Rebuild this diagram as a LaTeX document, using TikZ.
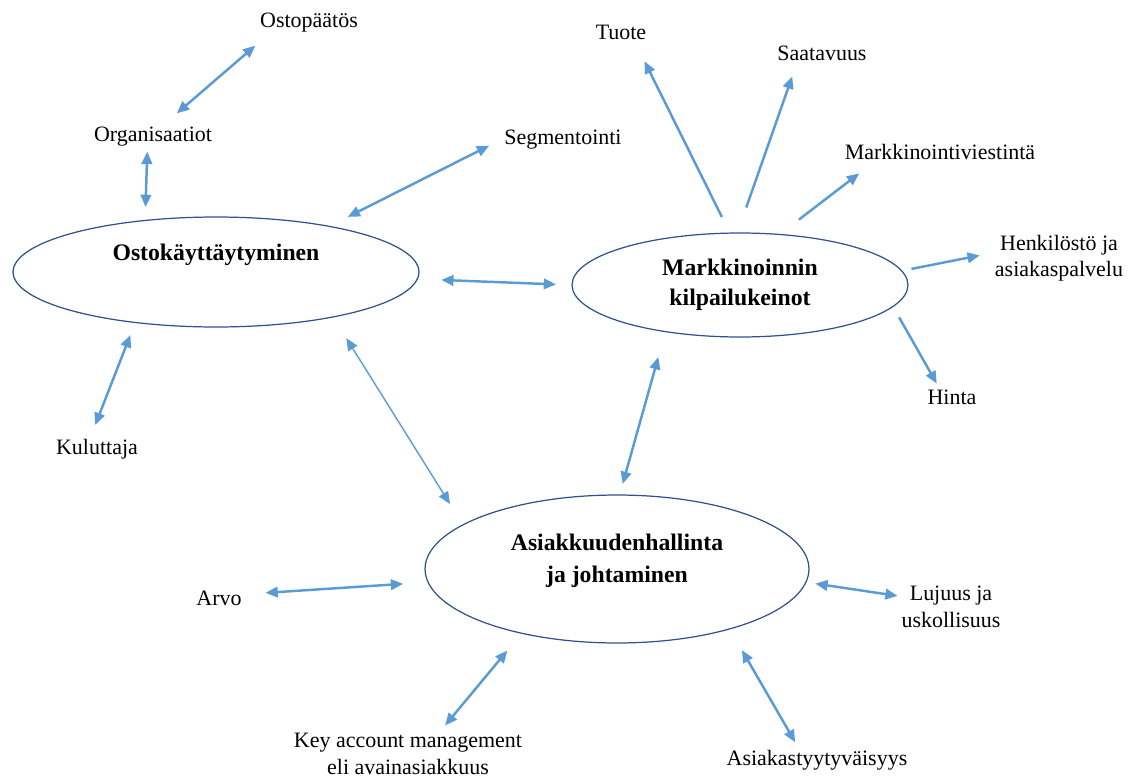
\documentclass[tikz,border=0pt]{standalone}
\usepackage{fontspec}
\setmainfont{Liberation Serif}
\usepackage{tikz}
\usepackage{xcolor}
\usetikzlibrary{arrows.meta,shapes.geometric}
\definecolor{arrowblue}{RGB}{91,155,213}
\definecolor{rimblue}{RGB}{47,82,143}
\tikzset{
  >={Triangle[length=7pt,width=6pt]},
  hub/.style = {ellipse, draw=rimblue, line width=0.7pt, inner sep=0pt, outer sep=0pt, align=center},
  hubtext/.style = {align=center, inner sep=0pt, font=\fontsize{13.5}{17}\selectfont\bfseries},
  lbl/.style = {inner sep=0pt, outer sep=0pt, align=center, font=\fontsize{12.5}{15}\selectfont},
  dbl/.style = {<->, draw=arrowblue, line width=1.4pt},
  one/.style = {->, draw=arrowblue, line width=1.4pt}
}

\begin{document}
\begin{tikzpicture}[x=0.02cm, y=-0.02cm]
\useasboundingbox (0,0) rectangle (1137,778);

% the three main themes
\node[hub, minimum width=8.12cm, minimum height=2.2cm,
      label={[hubtext, yshift=0.34cm]center:Ostokäyttäytyminen}] (ok) at (216,272) {};
\node[hub, minimum width=6.72cm, minimum height=2.08cm,
      label={[hubtext]center:Markkinoinnin\\kilpailukeinot}] (mk) at (740,285) {};
\node[hub, minimum width=7.68cm, minimum height=2.96cm,
      label={[hubtext, yshift=0.16cm]center:Asiakkuudenhallinta\\[1pt]ja johtaminen}] (ak) at (617,569) {};

% buying behaviour
\node[lbl] (op) at (309,23) {Ostopäätös};
\node[lbl] (org) at (153,137) {Organisaatiot};
\node[lbl] (seg) at (563,140) {Segmentointi};
\node[lbl] (kul) at (97,449) {Kuluttaja};

% marketing mix
\node[lbl] (tuo) at (621,32) {Tuote};
\node[lbl] (saa) at (822,53) {Saatavuus};
\node[lbl] (mv) at (940,152) {Markkinointiviestintä};
\node[lbl] (hen) at (1059,258) {Henkilöstö ja\\asiakaspalvelu};
\node[lbl] (hin) at (952,397) {Hinta};

% customer relationship
\node[lbl] (arv) at (219,598) {Arvo};
\node[lbl] (luj) at (951,607) {Lujuus ja\\uskollisuus};
\node[lbl] (kam) at (408,754) {Key account management\\eli avainasiakkuus};
\node[lbl] (aty) at (817,760) {Asiakastyytyväisyys};

\draw[dbl, shorten <=0.4cm, shorten >=0.43cm] (op.-166) -- (org.52);
\draw[dbl, shorten <=0.1cm, shorten >=0.27cm] (org.-120) -- (ok.144);
\draw[dbl, shorten <=0.34cm, shorten >=0.42cm] (seg.178) -- (ok.22);
\draw[dbl, shorten <=0.3cm, shorten >=0.27cm] (kul.126) -- (ok.-148);
\draw[dbl, shorten <=0.48cm, shorten >=0.32cm] (ok.-2) -- (mk.180);
\draw[dbl, line width=0.8pt, shorten <=0.5cm, shorten >=0.49cm] (ok.-21) -- (ak.164);
\draw[dbl, shorten <=0.23cm, shorten >=0.53cm] (ak.88) -- (mk.-148);

\draw[one, shorten <=0.36cm, shorten >=0.49cm] (mk.101) -- (tuo.-30);
\draw[one, shorten <=0.54cm, shorten >=0.34cm] (mk.93) -- (saa.-163);
\draw[one, shorten <=0.49cm, shorten >=0.45cm] (mk.52) -- (mv.-173);
\draw[one, shorten <=0.2cm, shorten >=0.31cm] (mk.5) -- (hen.175);
\draw[one, shorten <=0.25cm, shorten >=0.14cm] (mk.-8) -- (hin.148);

\draw[dbl, shorten <=0.48cm, shorten >=0.5cm] (arv.9) -- (ak.184);
\draw[dbl, shorten <=0.08cm, shorten >=0.19cm] (luj.168) -- (ak.-4);
\draw[dbl, shorten <=0.21cm, shorten >=0.45cm] (kam.34) -- (ak.-146);
\draw[dbl, shorten <=0.18cm, shorten >=0.49cm] (aty.150) -- (ak.-28);
\end{tikzpicture}
\end{document}
